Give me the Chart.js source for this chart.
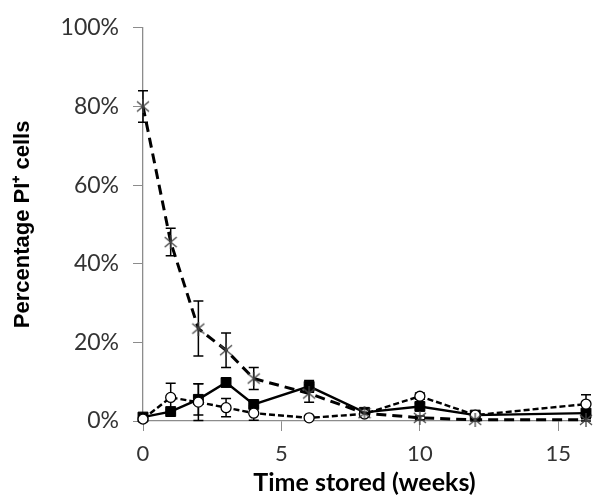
<!DOCTYPE html>
<html>
<head>
<meta charset="utf-8">
<script src="https://cdn.jsdelivr.net/npm/chart.js@4.4.1/dist/chart.umd.min.js"></script>
<style>
  html, body { margin: 0; padding: 0; background: #fff; }
  #wrap { width: 602px; height: 502px; }
</style>
</head>
<body>
<div id="wrap"><canvas id="lineChart" width="602" height="502"></canvas></div>
<script>
// weeks of storage
const weeks = [0, 1, 2, 3, 4, 6, 8, 10, 12, 16]
const xTicks = [0, 5, 10, 15]

// percentage PI+ cells, one array per series, with error bar half-widths
const pctCross  = [80, 45.5, 23.5, 18, 10.8, 7, 2, 0.8, 0.3, 0.3]
const errCross  = [4, 3.5, 7, 4.4, 2.8, 2.2, 0.4, 0.5, 0.3, 0.3]
const pctSquare = [1, 2.4, 5.5, 9.8, 4.2, 8.8, 2.2, 3.7, 1.5, 2]
const errSquare = [0.3, 0.5, 4, 1, 0.8, 1.5, 0.5, 0.8, 0.3, 0.5]
const pctCircle = [0.5, 6, 4.8, 3.4, 2, 0.8, 1.8, 6.3, 1.5, 4.3]
const errCircle = [0.3, 3.6, 4.7, 2.3, 1.8, 0.4, 0.5, 0.8, 0.3, 2.4]

const CHART = document.getElementById('lineChart')

function asterisk() {
  const c = document.createElement('canvas')
  c.width = 14
  c.height = 14
  const g = c.getContext('2d')
  g.strokeStyle = '#444'
  g.lineWidth = 1.3
  g.beginPath()
  g.moveTo(1, 2); g.lineTo(13, 12)
  g.moveTo(13, 2); g.lineTo(1, 12)
  g.moveTo(7, 0); g.lineTo(7, 14)
  g.stroke()
  return c
}

function pts(ys) {
  return weeks.map((w, i) => ({x: w, y: ys[i]}))
}

const errorBars = {
  id: 'errorBars',
  beforeDatasetsDraw(chart) {
    const ctx = chart.ctx
    const xs = chart.scales.x
    const ys = chart.scales.y
    ctx.save()
    ctx.strokeStyle = '#000'
    ctx.lineWidth = 1.5
    chart.data.datasets.forEach(ds => {
      ds.data.forEach((p, i) => {
        const e = ds.err[i]
        const px = xs.getPixelForValue(p.x)
        const top = ys.getPixelForValue(p.y + e)
        const bot = ys.getPixelForValue(p.y - e)
        ctx.beginPath()
        ctx.moveTo(px, top); ctx.lineTo(px, bot)
        ctx.moveTo(px - 5, top); ctx.lineTo(px + 5, top)
        ctx.moveTo(px - 5, bot); ctx.lineTo(px + 5, bot)
        ctx.stroke()
      })
    })
    ctx.restore()
  }
}

let lineChart = new Chart(CHART, {
  type: 'scatter',
  data: {
    datasets: [
      {
        label: 'cross',
        data: pts(pctCross),
        err: errCross,
        showLine: true,
        borderColor: '#000',
        borderWidth: 3,
        borderDash: [10, 6],
        pointStyle: asterisk(),
        clip: false
      },
      {
        label: 'circle',
        data: pts(pctCircle),
        err: errCircle,
        showLine: true,
        borderColor: '#000',
        borderWidth: 2.4,
        borderDash: [6, 3],
        pointStyle: 'circle',
        pointRadius: 5,
        pointBackgroundColor: '#fff',
        pointBorderColor: '#000',
        pointBorderWidth: 1.3,
        clip: false
      },
      {
        label: 'square',
        data: pts(pctSquare),
        err: errSquare,
        showLine: true,
        borderColor: '#000',
        borderWidth: 2.4,
        pointStyle: 'rect',
        pointRadius: 7,
        pointBackgroundColor: '#000',
        pointBorderColor: '#000',
        pointBorderWidth: 1,
        clip: false
      }
    ]
  },
  options: {
    responsive: false,
    animation: false,
    layout: {padding: {left: 6, right: 16, top: 22, bottom: 0}},
    plugins: {legend: {display: false}, tooltip: {enabled: false}},
    scales: {
      x: {
        type: 'linear',
        min: 0,
        max: 16,
        afterBuildTicks: s => { s.ticks = xTicks.map(v => ({value: v})) },
        afterFit: s => { s.height = 81 },
        grid: {drawOnChartArea: false, tickLength: 10, color: '#8c8c8c'},
        border: {color: '#8c8c8c', width: 1.3},
        ticks: {color: '#333', padding: 10, font: {family: 'Lato', size: 22}},
        title: {display: true, text: 'Time stored (weeks)', color: '#000',
                font: {family: 'Lato', size: 25, weight: 'bold'}}
      },
      y: {
        min: 0,
        max: 100,
        afterFit: s => { s.width = 137 },
        grid: {drawOnChartArea: false, tickLength: 10, color: '#8c8c8c'},
        border: {color: '#8c8c8c', width: 1.3},
        ticks: {stepSize: 20, color: '#333', padding: 14,
                font: {family: 'Lato', size: 23},
                callback: v => v + '%'},
        title: {display: true, text: 'Percentage PI\u207A cells', color: '#000',
                font: {family: 'Liberation Sans', size: 22, weight: 'bold'}}
      }
    }
  },
  plugins: [errorBars]
})
</script>
</body>
</html>
